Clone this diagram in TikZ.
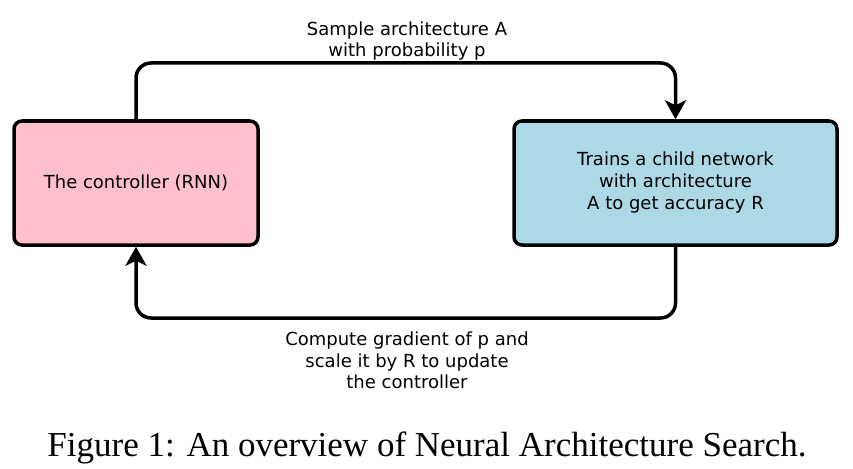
\documentclass[tikz,border=0pt]{standalone}
\usepackage{fontspec}
\setmainfont{DejaVu Sans}
\newfontfamily\capfont{Liberation Serif}
\usetikzlibrary{arrows.meta}
\definecolor{boxpink}{HTML}{FFC0CB}
\definecolor{boxblue}{HTML}{ADD8E6}
\tikzset{
  block/.style={draw=black, line width=3.5pt, rounded corners=8pt, align=center,
    minimum height=124pt, inner sep=0pt, font=\fontsize{18}{22}\selectfont},
  conn/.style={line width=3.5pt, rounded corners=15pt,
    -{Stealth[length=19pt,width=21pt,inset=5pt]}},
  lbl/.style={align=center, inner sep=0pt, font=\fontsize{18}{21.5}\selectfont}
}
\begin{document}
\begin{tikzpicture}[x=1pt,y=-1pt]
\useasboundingbox (0,0) rectangle (853,468);
\node[block, fill=boxpink, minimum width=244pt] (ctrl) at (136,183) {The controller (RNN)};
\node[block, fill=boxblue, minimum width=323pt] (child) at (675.5,183) {Trains a child network\\with architecture\\A to get accuracy R};
\coordinate (tl) at (136,63);
\coordinate (tr) at (675.5,63);
\coordinate (br) at (675.5,318);
\coordinate (bl) at (136,318);
\draw[conn] (ctrl.north) -- (tl) -- (tr) -- (child.north);
\draw[conn] (child.south) -- (br) -- (bl) -- (ctrl.south);
\node[lbl] (toplbl) at (407,41) {Sample architecture A\\with probability p};
\node[lbl] (botlbl) at (407,360.5) {Compute gradient of p and\\scale it by R to update\\the controller};
\node[inner sep=0pt, anchor=base, font=\capfont\fontsize{35}{40}\selectfont] (cap) at (427,456) {Figure 1: An overview of Neural Architecture Search.};
\end{tikzpicture}
\end{document}
